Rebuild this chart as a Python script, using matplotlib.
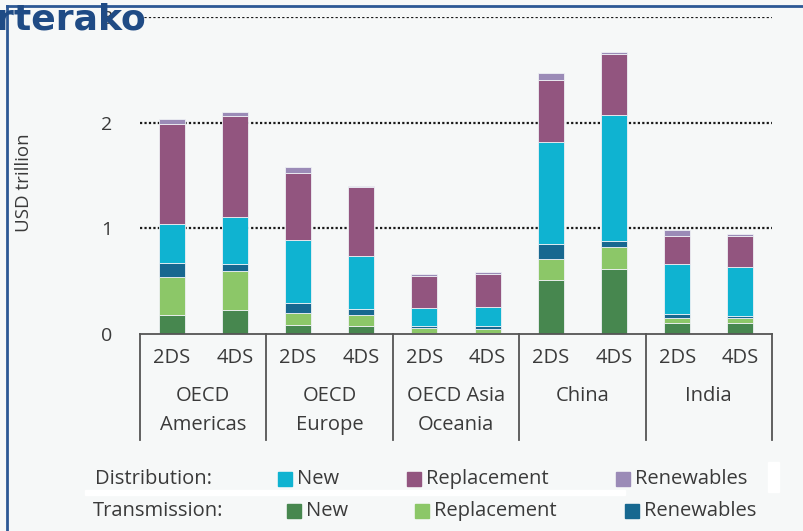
import matplotlib.pyplot as plt
from matplotlib.patches import Rectangle
from matplotlib.lines import Line2D

regions = ["OECD\nAmericas", "OECD\nEurope", "OECD Asia\nOceania", "China", "India"]
scenarios = ["2DS", "4DS"]

# USD trillion, one value per bar (2DS, 4DS for each region)
trans_new = [0.18, 0.225, 0.088, 0.076, 0.012, 0.011, 0.507, 0.611, 0.106, 0.106]
trans_repl = [0.36, 0.37, 0.108, 0.107, 0.043, 0.041, 0.199, 0.216, 0.041, 0.044]
trans_ren = [0.13, 0.066, 0.094, 0.054, 0.025, 0.019, 0.145, 0.053, 0.044, 0.016]
dist_new = [0.375, 0.45, 0.598, 0.505, 0.162, 0.183, 0.969, 1.194, 0.474, 0.471]
dist_repl = [0.945, 0.95, 0.638, 0.651, 0.306, 0.313, 0.58, 0.572, 0.265, 0.293]
dist_ren = [0.04, 0.04, 0.054, 0.012, 0.022, 0.019, 0.07, 0.024, 0.054, 0.013]

series = [
    (trans_new, "#47874f"),
    (trans_repl, "#8cc768"),
    (trans_ren, "#176890"),
    (dist_new, "#0fb3d1"),
    (dist_repl, "#92557f"),
    (dist_ren, "#9b8bb7"),
]

legend_rows = [
    ("Distribution:", [("New", "#0fb3d1"), ("Replacement", "#92557f"), ("Renewables", "#9b8bb7")]),
    ("Transmission:", [("New", "#47874f"), ("Replacement", "#8cc768"), ("Renewables", "#176890")]),
]

background = "#f6f8f8"
text_color = "#3a3a3a"
W, H = 804, 531

plt.rcParams['font.family'] = ['Open Sans', 'DejaVu Sans']
fig = plt.figure(figsize=(W / 100, H / 100), dpi=100, facecolor=background)


def fx(px):
    return px / W


def fy(py):
    return 1 - py / H


ax = fig.add_axes([fx(140), fy(334), fx(772) - fx(140), fy(17) - fy(334)])
ax.set_facecolor(background)

n = len(trans_new)
xs = list(range(n))
bottom = [0.0] * n
for values, color in series:
    ax.bar(xs, values, width=0.41, bottom=bottom, color=color,
           edgecolor="#eef0f4", linewidth=0.6, zorder=3)
    bottom = [b + v for b, v in zip(bottom, values)]

ax.set_xlim(-0.5, n - 0.5)
ax.set_ylim(0, 3)
ax.set_yticks([0, 1, 2, 3])
for y in [1, 2, 3]:
    ax.axhline(y, color="#1a1a1a", linestyle=(0, (1, 1)), linewidth=1.6, zorder=1)
for s in ax.spines.values():
    s.set_visible(False)
ax.set_xticks([])
ax.tick_params(axis="y", length=0, pad=20, labelsize=14, labelcolor=text_color)
ax.set_ylabel("USD trillion", fontsize=13.5, color=text_color)
ax.yaxis.set_label_coords(-(140 - 33) / 632, (334 - 183) / 317)

# category table under the bars
ax.plot([-0.5, n - 0.5], [0, 0], color="#555555", lw=1.3, clip_on=False, zorder=4)
table_bottom = -(440 - 334) / 105.7
for k in range(0, n + 1, 2):
    ax.plot([k - 0.5, k - 0.5], [0, table_bottom], color="#555555", lw=1.3,
            clip_on=False)
for i in xs:
    ax.text(i, -(358 - 334) / 105.7, scenarios[i % 2], ha="center", va="center",
            fontsize=14.5, color=text_color)
for g, name in enumerate(regions):
    lines = name.split("\n")
    for j, line in enumerate(lines):
        ax.text(2 * g + 0.5, -(396 - 334 + 29 * j) / 105.7, line, ha="center",
                va="center", fontsize=14.5, color=text_color)

# white artifacts of the source image
fig.patches.append(Rectangle((fx(85), fy(495)), fx(625) - fx(85), fy(490) - fy(495),
                             transform=fig.transFigure, color="white", zorder=0))
fig.patches.append(Rectangle((fx(768), fy(492)), fx(779) - fx(768), fy(462) - fy(492),
                             transform=fig.transFigure, color="white", zorder=0))

# legend
label_x = [95, 93]
item_x = [[278, 407, 616], [287, 415, 625]]
row_y = [479, 511]
for r, (title, items) in enumerate(legend_rows):
    fig.text(fx(label_x[r]), fy(row_y[r]), title, ha="left", va="center",
             fontsize=14.5, color=text_color)
    for (lab, color), x0 in zip(items, item_x[r]):
        fig.patches.append(Rectangle((fx(x0), fy(row_y[r] + 7)), fx(14), 14 / H,
                                     transform=fig.transFigure, color=color))
        fig.text(fx(x0 + 19), fy(row_y[r]), lab, ha="left", va="center",
                 fontsize=14.5, color=text_color)

# blue frame and watermark text
frame = "#2c5895"
fig.lines.append(Line2D([fx(7), 1], [fy(5.5), fy(5.5)], transform=fig.transFigure,
                        color=frame, lw=2))
fig.lines.append(Line2D([fx(7), fx(7)], [0, fy(5.5)], transform=fig.transFigure,
                        color=frame, lw=2))
fig.text(fx(-4), fy(19), "rterako", ha="left", va="center", fontsize=26,
         fontweight="bold", color="#1f4b85", family="DejaVu Sans")

fig.savefig("out.png", dpi=100, facecolor=background)
